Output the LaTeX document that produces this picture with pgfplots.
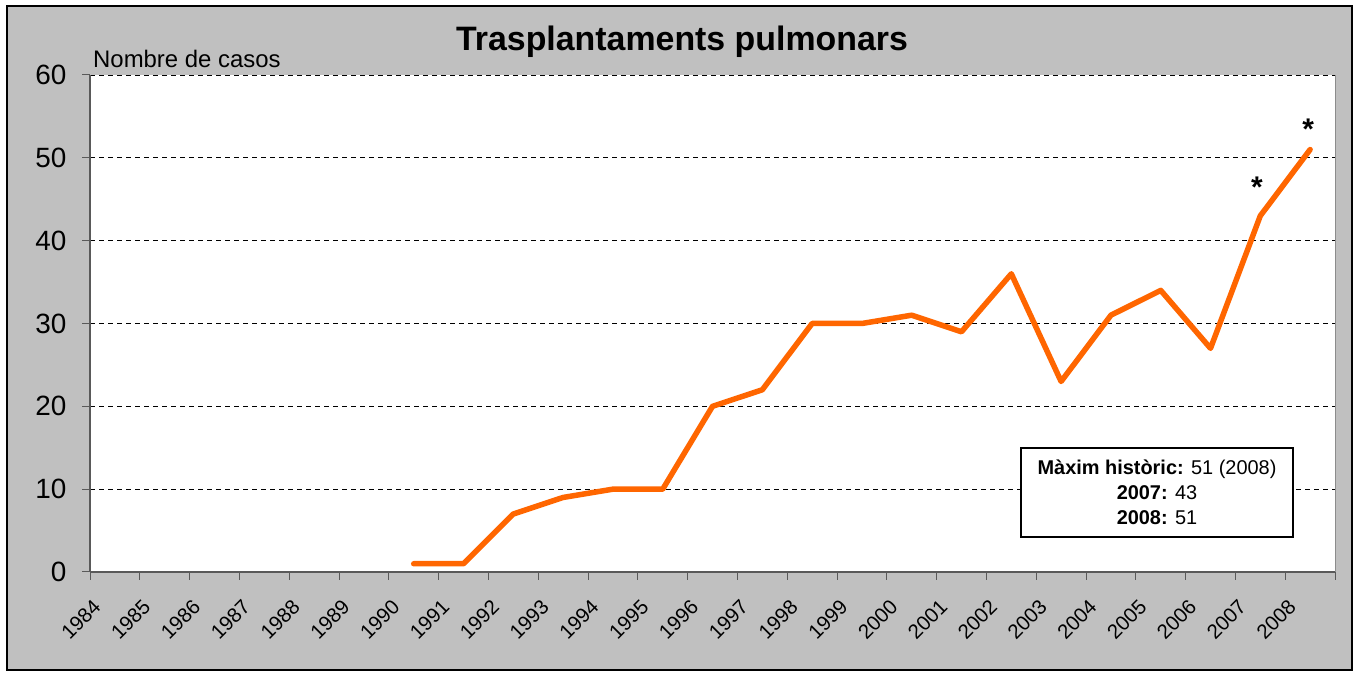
\documentclass[border=0pt]{standalone}
\usepackage{pgfplots}
\pgfplotsset{compat=1.18}
\usepackage{fontspec}
\setmainfont{Liberation Sans}
\definecolor{bg}{HTML}{C0C0C0}
\definecolor{ln}{HTML}{FF6600}
\pgfdeclarelayer{background}
\pgfsetlayers{background,main}
\begin{document}
\begin{tikzpicture}[x=1bp,y=1bp]
\begin{axis}[scale only axis,
  width=1245bp, height=497bp,
  xmin=-0.5, xmax=24.5, ymin=0, ymax=60,
  axis background/.style={fill=white},
  axis x line*=bottom, axis y line*=left,
  axis line style={draw=black!65, line width=1.2bp, -},
  tick align=outside, major tick length=8bp,
  tick style={draw=black!65, line width=1bp},
  /pgf/number format/assume math mode=true,
  ytick={0,10,...,60},
  yticklabel style={font=\fontsize{28}{32}\selectfont, xshift=-12bp},
  ymajorgrids, major grid style={dash pattern=on 5bp off 4bp, black, line width=0.8bp},
  xtick={-0.5,0.5,...,24.5}, xticklabels={},
  extra x ticks={0,...,24},
  extra x tick labels={1984,1985,1986,1987,1988,1989,1990,1991,1992,1993,1994,1995,1996,1997,1998,1999,2000,2001,2002,2003,2004,2005,2006,2007,2008},
  extra x tick style={major tick length=0pt, xmajorgrids=false,
    xticklabel style={font=\fontsize{20.5}{24}\selectfont, anchor=north east, xshift=-23bp, yshift=-21bp, rotate=45}},
  clip=false,
]
\addplot[color=ln, line width=5.5bp, line join=round, line cap=round] coordinates {
(6,1) (7,1) (8,7) (9,9) (10,10) (11,10) (12,20) (13,22) (14,30) (15,30)
(16,31) (17,29) (18,36) (19,23) (20,31) (21,34) (22,27) (23,43) (24,51)
};
\draw[black!45, line width=1bp] (axis cs:24.5,0) -- (axis cs:24.5,60);
\node[font=\fontsize{30}{34}\selectfont\bfseries] at (axis cs:22.93,46.4) {*};
\node[font=\fontsize{30}{34}\selectfont\bfseries] at (axis cs:23.96,53.4) {*};
\coordinate (O) at (axis cs:-0.5,0);
\end{axis}
\pgfresetboundingbox
\begin{scope}[shift={(O)}, xshift=-90bp, yshift=-103bp]
\useasboundingbox (0,0) rectangle (1355,675);
\begin{pgfonlayer}{background}
\fill[bg] (7,5) rectangle (1352,669);
\end{pgfonlayer}
\draw[black, line width=1.3bp] (7,5) rectangle (1352,669);
\node[anchor=base, font=\fontsize{34}{40}\selectfont\bfseries] at (682,624) {Trasplantaments pulmonars};
\node[anchor=base west, inner sep=0pt, font=\fontsize{24}{28}\selectfont] at (93,607) {Nombre de casos};
\node[draw=black, fill=white, line width=1.2bp, minimum width=272bp, minimum height=89bp, align=center, inner sep=0pt,
  font=\fontsize{20}{25}\selectfont] at (1157,182.5) {\textbf{Màxim històric:} 51 (2008)\\ \textbf{2007:} 43\\ \textbf{2008:} 51};
\end{scope}
\end{tikzpicture}
\end{document}
